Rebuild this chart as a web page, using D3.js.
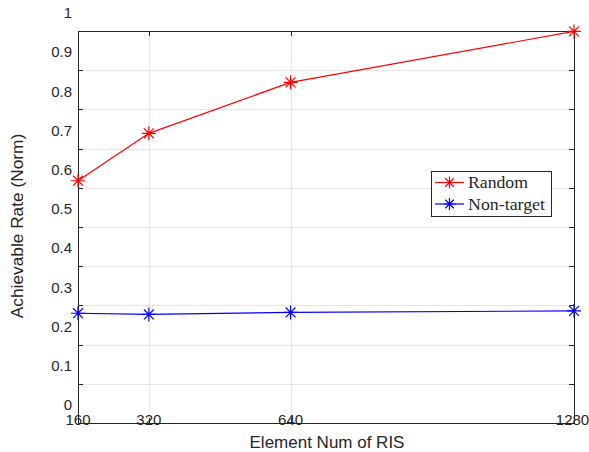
<!DOCTYPE html>
<html>
<head>
<meta charset="utf-8">
<script src="https://cdn.jsdelivr.net/npm/d3@7"></script>
<style>
  body { margin: 0; background: #fff; }
  svg { display: block; }
</style>
</head>
<body>
<div id="chart"></div>
<script>
// data
const elements = [160, 320, 640, 1280];
const randomRate = [0.618, 0.739, 0.869, 0.999];
const nonTargetRate = [0.280, 0.277, 0.282, 0.286];
const yTicks = [0, 0.1, 0.2, 0.3, 0.4, 0.5, 0.6, 0.7, 0.8, 0.9, 1];
const seriesNames = ['Random', 'Non-target'];
const seriesColors = ['#ff0000', '#0000ff'];

const W = 589, H = 452;
const plotL = 78, plotR = 574, plotT = 31, plotB = 423;

const x = d3.scaleLinear().domain([160, 1280]).range([plotL, plotR]);
const y = d3.scaleLinear().domain([0, 1]).range([plotB, plotT]);

const svg = d3.select('#chart').append('svg')
  .attr('width', W).attr('height', H);

const sans = 'Helvetica, Arial, "Liberation Sans", sans-serif';

// grid
const grid = svg.append('g').attr('stroke', '#e6e6e6').attr('stroke-width', 1);
grid.selectAll('line.gy').data(yTicks).enter().append('line')
  .attr('x1', plotL).attr('x2', plotR)
  .attr('y1', d => Math.round(y(d)) + 0.5).attr('y2', d => Math.round(y(d)) + 0.5);
grid.selectAll('line.gx').data(elements).enter().append('line')
  .attr('y1', plotT).attr('y2', plotB)
  .attr('x1', d => Math.round(x(d)) + 0.5).attr('x2', d => Math.round(x(d)) + 0.5);

// axes (ticks pointing inward, box on all sides)
const axisColor = '#262626';
const tickLen = 5;
const axes = svg.append('g').attr('stroke', axisColor).attr('stroke-width', 1);
axes.append('rect')
  .attr('x', plotL + 0.5).attr('y', plotT + 0.5)
  .attr('width', plotR - plotL).attr('height', plotB - plotT)
  .attr('fill', 'none');
yTicks.forEach(v => {
  const yy = Math.round(y(v)) + 0.5;
  axes.append('line').attr('x1', plotL).attr('x2', plotL + tickLen).attr('y1', yy).attr('y2', yy);
  axes.append('line').attr('x1', plotR - tickLen).attr('x2', plotR).attr('y1', yy).attr('y2', yy);
});
elements.forEach(v => {
  const xx = Math.round(x(v)) + 0.5;
  axes.append('line').attr('x1', xx).attr('x2', xx).attr('y1', plotB - tickLen).attr('y2', plotB);
  axes.append('line').attr('x1', xx).attr('x2', xx).attr('y1', plotT).attr('y2', plotT + tickLen);
});

// tick labels (offset upward like in the source figure)
svg.append('g').selectAll('text').data(yTicks).enter().append('text')
  .attr('x', plotL - 6).attr('y', d => y(d) - 18)
  .attr('dy', '0.35em')
  .attr('text-anchor', 'end')
  .attr('font-family', sans).attr('font-size', 15).attr('fill', axisColor)
  .text(d => d3.format('~g')(d));
svg.append('g').selectAll('text').data(elements).enter().append('text')
  .attr('x', d => Math.min(x(d), W - 16.5)).attr('y', plotB - 3)
  .attr('dy', '0.35em')
  .attr('text-anchor', 'middle')
  .attr('font-family', sans).attr('font-size', 15).attr('fill', axisColor)
  .text(d => d);

// axis titles
svg.append('text')
  .attr('x', 327).attr('y', 448)
  .attr('text-anchor', 'middle')
  .attr('font-family', sans).attr('font-size', 17).attr('fill', axisColor)
  .text('Element Num of RIS');
svg.append('text')
  .attr('transform', 'translate(23,226) rotate(-90)')
  .attr('text-anchor', 'middle')
  .attr('font-family', sans).attr('font-size', 17.3).attr('fill', axisColor)
  .text('Achievable Rate (Norm)');

// asterisk marker
function star(g, cx, cy, r, color) {
  const d = r * Math.SQRT1_2;
  const p = `M${cx - r},${cy}L${cx + r},${cy}M${cx},${cy - r}L${cx},${cy + r}` +
    `M${cx - d},${cy - d}L${cx + d},${cy + d}M${cx - d},${cy + d}L${cx + d},${cy - d}`;
  g.append('path').attr('d', p).attr('stroke', color).attr('stroke-width', 1.2).attr('fill', 'none');
}

const line = d3.line().x(d => x(d[0])).y(d => y(d[1]));
[randomRate, nonTargetRate].forEach((vals, i) => {
  const pts = elements.map((e, j) => [e, vals[j]]);
  const g = svg.append('g');
  g.append('path').datum(pts).attr('d', line)
    .attr('fill', 'none').attr('stroke', seriesColors[i]).attr('stroke-width', 1.2);
  pts.forEach(p => star(g, x(p[0]), y(p[1]), 7, seriesColors[i]));
});

// legend
const lg = svg.append('g');
lg.append('rect')
  .attr('x', 431.5).attr('y', 171.5).attr('width', 120).attr('height', 45)
  .attr('fill', '#fff').attr('stroke', axisColor).attr('stroke-width', 1);
const legendWidths = [60, 77];
seriesNames.forEach((name, i) => {
  const yy = 182.5 + i * 21.5;
  lg.append('line').attr('x1', 435).attr('x2', 464).attr('y1', yy).attr('y2', yy)
    .attr('stroke', seriesColors[i]).attr('stroke-width', 1.2);
  star(lg, 449.5, yy, 6, seriesColors[i]);
  lg.append('text')
    .attr('x', 468).attr('y', yy).attr('dy', '0.33em')
    .attr('font-family', '"Liberation Serif", "Times New Roman", serif')
    .attr('font-size', 17).attr('fill', '#262626')
    .attr('textLength', legendWidths[i]).attr('lengthAdjust', 'spacingAndGlyphs')
    .text(name);
});
</script>
</body>
</html>
